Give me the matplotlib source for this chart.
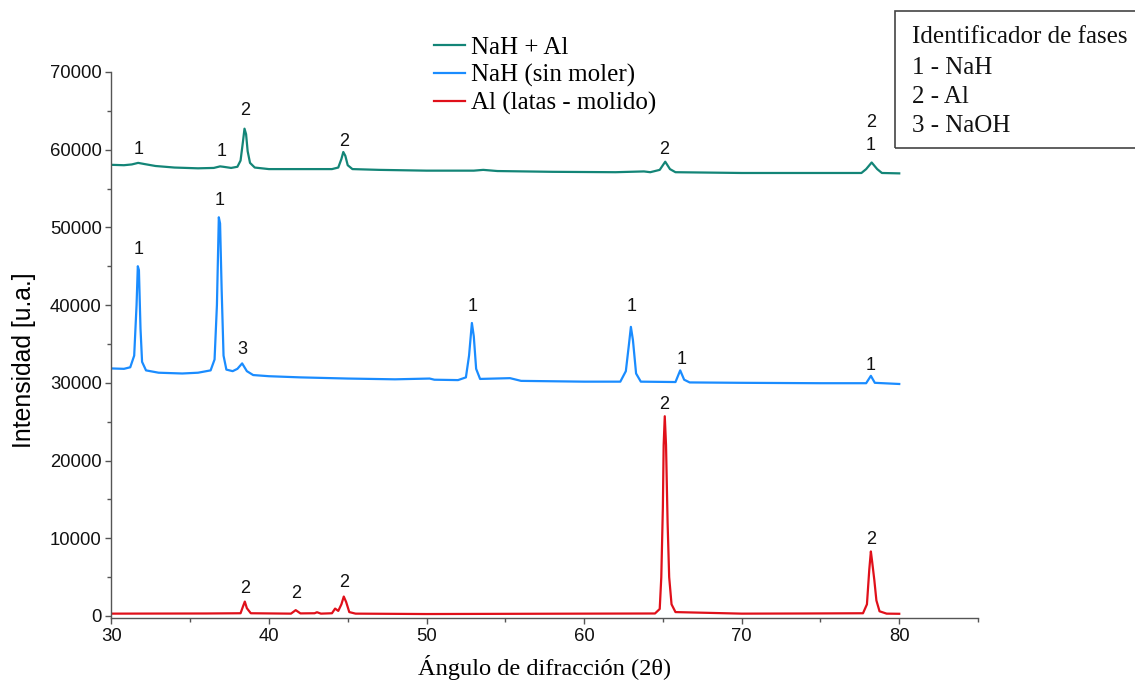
import matplotlib
matplotlib.use("Agg")
import matplotlib.pyplot as plt
from matplotlib.ticker import MultipleLocator
from matplotlib.patches import Rectangle

# ---- XRD patterns: angle (2θ, degrees) and intensity (a.u.) ----
ang_nah_al = [30.0, 30.8, 31.3, 31.7, 32.1, 32.8, 34.0, 35.5, 36.5, 36.9, 37.1, 37.6,
              38.0, 38.2, 38.35, 38.45, 38.55, 38.65, 38.8, 39.1, 40.0, 42.0, 44.0,
              44.4, 44.6, 44.72, 44.85, 45.0, 45.3, 47.0, 50.0, 53.0, 53.6, 54.5,
              58.0, 62.0, 63.8, 64.2, 64.8, 65.15, 65.45, 65.8, 70.0, 75.0, 77.6,
              77.9, 78.25, 78.6, 78.9, 80.0]
int_nah_al = [58050, 58000, 58100, 58300, 58150, 57900, 57700, 57600, 57650, 57850,
              57800, 57650, 57800, 58600, 61000, 62700, 62000, 59800, 58300, 57700,
              57500, 57500, 57500, 57700, 58800, 59700, 59200, 58000, 57500, 57400,
              57300, 57300, 57400, 57250, 57150, 57100, 57200, 57100, 57400, 58450,
              57500, 57100, 57000, 57000, 57000, 57500, 58350, 57500, 57000, 56950]

ang_nah = [30.0, 30.8, 31.2, 31.45, 31.6, 31.68, 31.75, 31.85, 31.95, 32.2, 33.0, 34.5,
           35.5, 36.3, 36.55, 36.7, 36.82, 36.9, 37.0, 37.12, 37.3, 37.7, 38.0, 38.3,
           38.6, 39.0, 40.0, 42.0, 45.0, 48.0, 50.2, 50.5, 52.0, 52.5, 52.7, 52.88,
           53.0, 53.15, 53.4, 55.3, 56.0, 60.0, 62.3, 62.65, 62.85, 62.97, 63.1, 63.3,
           63.6, 65.8, 66.1, 66.35, 66.7, 70.0, 75.0, 77.9, 78.2, 78.45, 80.0]
int_nah = [31850, 31800, 32000, 33500, 40000, 45000, 44500, 37000, 32700, 31600, 31300,
           31200, 31300, 31600, 33000, 40000, 51300, 50500, 42000, 33500, 31700, 31500,
           31800, 32500, 31500, 31000, 30850, 30700, 30550, 30450, 30550, 30400, 30350,
           30700, 33500, 37700, 36000, 31800, 30500, 30600, 30250, 30150, 30150, 31500,
           35000, 37200, 35500, 31200, 30150, 30100, 31600, 30400, 30050, 30000, 29950,
           29950, 30900, 30000, 29850]

ang_al = [30.0, 36.0, 38.2, 38.35, 38.47, 38.6, 38.85, 41.4, 41.7, 42.0, 42.9, 43.05,
          43.3, 44.0, 44.2, 44.4, 44.6, 44.75, 44.9, 45.1, 45.5, 50.0, 56.0, 60.0, 64.5,
          64.8, 64.9, 65.0, 65.05, 65.12, 65.2, 65.3, 65.4, 65.55, 65.8, 70.0, 74.0,
          77.7, 77.95, 78.1, 78.2, 78.28, 78.42, 78.55, 78.75, 79.2, 80.0]
int_al = [300, 320, 350, 1200, 1850, 1000, 350, 300, 750, 330, 350, 480, 300, 350, 950,
          650, 1500, 2500, 1800, 500, 300, 250, 280, 300, 320, 900, 5000, 14000, 22000,
          25700, 22000, 12000, 5000, 1500, 500, 300, 320, 350, 1500, 6000, 8300, 7000,
          4600, 2000, 600, 300, 280]

# ---- phase labels above peaks: (angle, intensity, phase id) ----
lab_nah_al = [(31.7, 60000, "1"), (37.0, 59700, "1"), (38.5, 65100, "2"),
              (44.8, 61100, "2"), (65.1, 60000, "2"), (78.2, 63450, "2"),
              (78.2, 60600, "1")]
lab_nah = [(31.7, 47100, "1"), (36.85, 53400, "1"), (38.3, 34250, "3"),
           (52.9, 39800, "1"), (63.0, 39800, "1"), (66.2, 32950, "1"),
           (78.2, 32200, "1")]
lab_al = [(38.5, 3500, "2"), (41.7, 2850, "2"), (44.8, 4250, "2"),
          (65.1, 27150, "2"), (78.2, 9800, "2")]

series_names = ["NaH + Al", "NaH (sin moler)", "Al (latas - molido)"]
series_colors = ["#138577", "#1a8cff", "#e0101a"]
phase_lines = ["Identificador de fases", "1 - NaH", "2 - Al", "3 - NaOH"]

SANS = "Liberation Sans"
SERIF = "Liberation Serif"

fig = plt.figure(figsize=(11.35, 6.82), dpi=100)
ax = fig.add_axes([0.0981, 0.0934, 0.7636, 0.8011])

data = [(ang_nah_al, int_nah_al), (ang_nah, int_nah), (ang_al, int_al)]
for (xs, ys), name, col in zip(data, series_names, series_colors):
    ax.plot(xs, ys, color=col, lw=1.6, label=name, solid_joinstyle="round")

for labels in (lab_nah_al, lab_nah, lab_al):
    for x, y, t in labels:
        ax.text(x, y, t, ha="center", va="center", fontsize=13, family=SANS,
                color="#111111")

ax.set_xlim(30, 85)
ax.set_ylim(-300, 70000)
ax.xaxis.set_major_locator(MultipleLocator(10))
ax.xaxis.set_minor_locator(MultipleLocator(5))
ax.yaxis.set_major_locator(MultipleLocator(10000))
ax.yaxis.set_minor_locator(MultipleLocator(5000))
ax.set_xticks([30, 40, 50, 60, 70, 80])

for s in ("top", "right"):
    ax.spines[s].set_visible(False)
for s in ("left", "bottom"):
    ax.spines[s].set_color("#555555")
    ax.spines[s].set_linewidth(1.0)
ax.tick_params(which="major", direction="out", length=4, width=1.0, color="#555555",
               labelsize=13.3, pad=3)
ax.tick_params(which="minor", direction="out", length=3, width=1.0, color="#555555")
for lbl in ax.get_xticklabels() + ax.get_yticklabels():
    lbl.set_family(SANS)
    lbl.set_color("#111111")

ax.set_ylabel("Intensidad [u.a.]", fontsize=17.8, family=SANS)
ax.yaxis.set_label_coords(-0.087, 0.473)
ax.set_xlabel("Ángulo de difracción (2θ)", fontsize=17.6, family=SERIF)
ax.xaxis.set_label_coords(0.5003, -0.068)

fig.legend(loc="upper left", bbox_to_anchor=(0.3824, 0.947), frameon=False,
           prop={"family": SERIF, "size": 18}, handlelength=1.25, handletextpad=0.22,
           labelspacing=0.2, borderpad=0, borderaxespad=0)

# phase identification box
fig.patches.append(Rectangle((895 / 1135, 1 - 148 / 682), 0.25, (148 - 11) / 682,
                             transform=fig.transFigure, fill=False,
                             edgecolor="#444444", lw=1.2))
for line, ypx in zip(phase_lines, [37, 68, 97, 126]):
    fig.text(912 / 1135, 1 - ypx / 682, line, ha="left", va="center",
             family=SERIF, fontsize=18, color="#111111")

fig.savefig("out.png", dpi=100)
